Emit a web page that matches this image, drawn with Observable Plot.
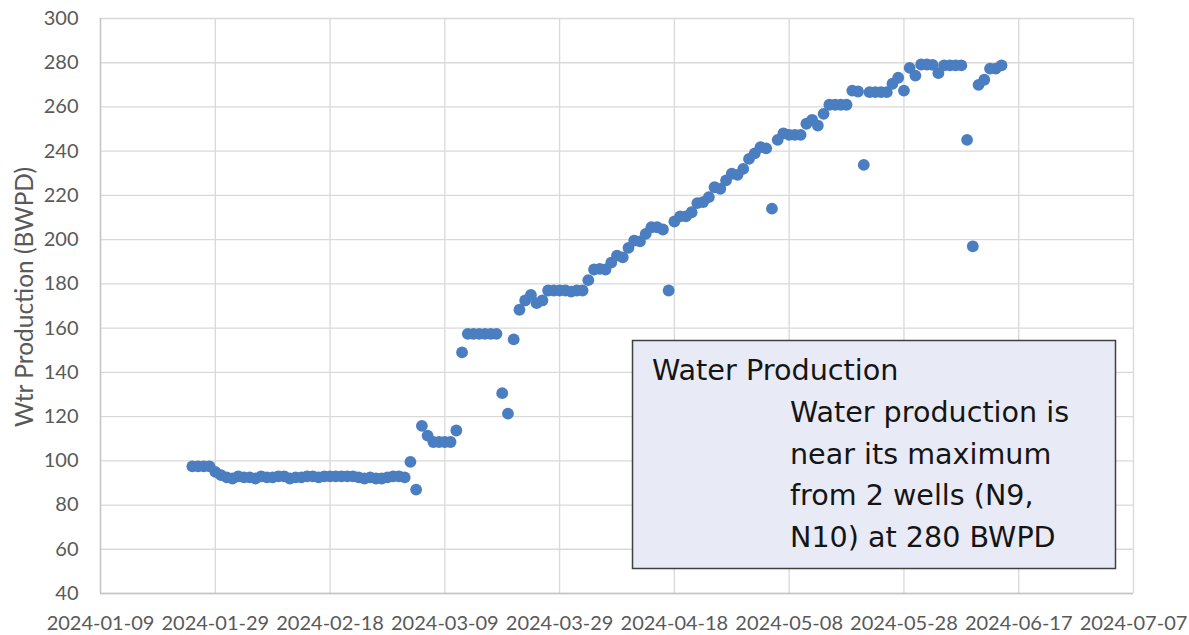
<!DOCTYPE html>
<html>
<head>
<meta charset="utf-8">
<script src="https://cdn.jsdelivr.net/npm/d3@7"></script>
<script src="https://cdn.jsdelivr.net/npm/@observablehq/plot@0.6"></script>
<style>
  html, body { margin: 0; padding: 0; background: #ffffff; }
  #chart { position: relative; width: 1189px; height: 635px; }
</style>
</head>
<body>
<div id="chart"></div>
<script>
const dates = [
  "2024-01-25","2024-01-26","2024-01-27","2024-01-28","2024-01-29","2024-01-30","2024-01-31",
  "2024-02-01","2024-02-02","2024-02-03","2024-02-04","2024-02-05","2024-02-06","2024-02-07",
  "2024-02-08","2024-02-09","2024-02-10","2024-02-11","2024-02-12","2024-02-13","2024-02-14",
  "2024-02-15","2024-02-16","2024-02-17","2024-02-18","2024-02-19","2024-02-20","2024-02-21",
  "2024-02-22","2024-02-23","2024-02-24","2024-02-25","2024-02-26","2024-02-27","2024-02-28",
  "2024-02-29","2024-03-01","2024-03-02","2024-03-03","2024-03-04","2024-03-05","2024-03-06",
  "2024-03-07","2024-03-08","2024-03-09","2024-03-10","2024-03-11","2024-03-12","2024-03-13",
  "2024-03-14","2024-03-15","2024-03-16","2024-03-17","2024-03-18","2024-03-19","2024-03-20",
  "2024-03-21","2024-03-22","2024-03-23","2024-03-24","2024-03-25","2024-03-26","2024-03-27",
  "2024-03-28","2024-03-29","2024-03-30","2024-03-31","2024-04-01","2024-04-02","2024-04-03",
  "2024-04-04","2024-04-05","2024-04-06","2024-04-07","2024-04-08","2024-04-09","2024-04-10",
  "2024-04-11","2024-04-12","2024-04-13","2024-04-14","2024-04-15","2024-04-16","2024-04-17",
  "2024-04-18","2024-04-19","2024-04-20","2024-04-21","2024-04-22","2024-04-23","2024-04-24",
  "2024-04-25","2024-04-26","2024-04-27","2024-04-28","2024-04-29","2024-04-30","2024-05-01",
  "2024-05-02","2024-05-03","2024-05-04","2024-05-05","2024-05-06","2024-05-07","2024-05-08",
  "2024-05-09","2024-05-10","2024-05-11","2024-05-12","2024-05-13","2024-05-14","2024-05-15",
  "2024-05-16","2024-05-17","2024-05-18","2024-05-19","2024-05-20","2024-05-21","2024-05-22",
  "2024-05-23","2024-05-24","2024-05-25","2024-05-26","2024-05-27","2024-05-28","2024-05-29",
  "2024-05-30","2024-05-31","2024-06-01","2024-06-02","2024-06-03","2024-06-04","2024-06-05",
  "2024-06-06","2024-06-07","2024-06-08","2024-06-09","2024-06-10","2024-06-11","2024-06-12",
  "2024-06-13","2024-06-14"
];
const waterBWPD = [
  97.5, 97.5, 97.5, 97.5, 95, 93.5, 92.5,
  92, 93, 92.5, 92.5, 92, 93, 92.5,
  92.5, 93, 93, 92, 92.5, 92.5, 93,
  93, 92.5, 93, 93, 93, 93, 93,
  93, 92.5, 92, 92.5, 92, 92, 92.5,
  93, 93, 92.5, 99.5, 87, 115.8, 111.4,
  108.5, 108.5, 108.5, 108.5, 113.7, 149, 157.4,
  157.4, 157.4, 157.4, 157.4, 157.4, 130.6, 121.3,
  154.9, 168.3, 172.5, 175, 171.3, 172.5, 177,
  177, 177, 177, 176.5, 177, 177, 181.7,
  186.5, 186.8, 186.5, 189.6, 192.8, 192, 196.3,
  199.6, 199.2, 202.6, 205.6, 205.6, 204.6, 177,
  208.2, 210.5, 210.5, 212.4, 216.5, 217, 219.2,
  223.7, 223, 226.8, 229.8, 229.3, 232, 236.5,
  239, 241.8, 241.3, 214, 245.1, 248.1, 247.4,
  247.4, 247.4, 252.4, 254.2, 251.6, 256.9, 261,
  261, 261, 261, 267.4, 267, 233.8, 266.7,
  266.7, 266.7, 266.7, 270.5, 273.2, 267.4, 277.7,
  274.2, 279.2, 279.2, 279, 275.3, 278.8, 278.8,
  278.8, 278.8, 245.1, 197, 270, 272.3, 277.3,
  277.3, 278.8
];
const xTickLabels = ["2024-01-09","2024-01-29","2024-02-18","2024-03-09","2024-03-29",
  "2024-04-18","2024-05-08","2024-05-28","2024-06-17","2024-07-07"];
const yTicks = [40, 60, 80, 100, 120, 140, 160, 180, 200, 220, 240, 260, 280, 300];
const yTitle = "Wtr Production (BWPD)";
const noteTitle = "Water Production";
const noteLines = ["Water production is", "near its maximum", "from 2 wells (N9,", "N10) at 280 BWPD"];

const parse = d3.utcParse("%Y-%m-%d");
const data = dates.map((d, i) => ({date: parse(d), value: waterBWPD[i]}));
const xTicks = xTickLabels.map(parse);

const font = "Lato, 'Open Sans', sans-serif";
const noteFont = "'DejaVu Sans', sans-serif";
const plot = Plot.plot({
  width: 1189,
  height: 635,
  marginLeft: 100,
  marginRight: 56,
  marginTop: 18,
  marginBottom: 42,
  style: {fontFamily: font, fontSize: "20px", color: "#595959", background: "#ffffff", overflow: "visible"},
  x: {type: "utc", domain: [xTicks[0], xTicks[xTicks.length - 1]]},
  y: {domain: [40, 300]},
  marks: [
    Plot.gridX(xTicks, {stroke: "#d9d9d9", strokeOpacity: 1, strokeWidth: 1.3}),
    Plot.gridY(yTicks, {stroke: "#d9d9d9", strokeOpacity: 1, strokeWidth: 1.3}),
    Plot.ruleY([40], {stroke: "#c4c4c4", strokeWidth: 1.4}),
    Plot.ruleX([xTicks[0]], {stroke: "#c4c4c4", strokeWidth: 1.4}),
    Plot.axisX(xTicks, {tickSize: 0, tickPadding: 22, tickFormat: d3.utcFormat("%Y-%m-%d"), label: null, fill: "#595959"}),
    Plot.axisY(yTicks, {tickSize: 0, tickPadding: 22, label: null, fill: "#595959"}),
    Plot.dot(data, {x: "date", y: "value", r: 5.9, fill: "#4a7ec0", stroke: "none"})
  ]
});
document.getElementById("chart").appendChild(plot);

const svg = d3.select(plot);
svg.append("text")
  .attr("transform", "translate(23,297) rotate(-90)")
  .attr("text-anchor", "middle")
  .attr("dominant-baseline", "central")
  .attr("font-family", font)
  .attr("font-size", 24.5)
  .attr("fill", "#595959")
  .text(yTitle);

const g = svg.append("g").attr("text-anchor", "start");
g.append("rect")
  .attr("x", 632.5).attr("y", 340.5).attr("width", 483).attr("height", 228)
  .attr("fill", "#e8ebf6").attr("stroke", "#404040").attr("stroke-width", 1.5);
g.append("text")
  .attr("x", 652).attr("y", 380)
  .attr("text-anchor", "start")
  .attr("font-family", noteFont).attr("font-size", 28.7).attr("fill", "#151515")
  .text(noteTitle);
noteLines.forEach((t, i) => {
  g.append("text")
    .attr("x", 790).attr("y", 422 + i * 41.6)
    .attr("text-anchor", "start")
    .attr("font-family", noteFont).attr("font-size", 28.6).attr("fill", "#151515")
    .text(t);
});
</script>
</body>
</html>
